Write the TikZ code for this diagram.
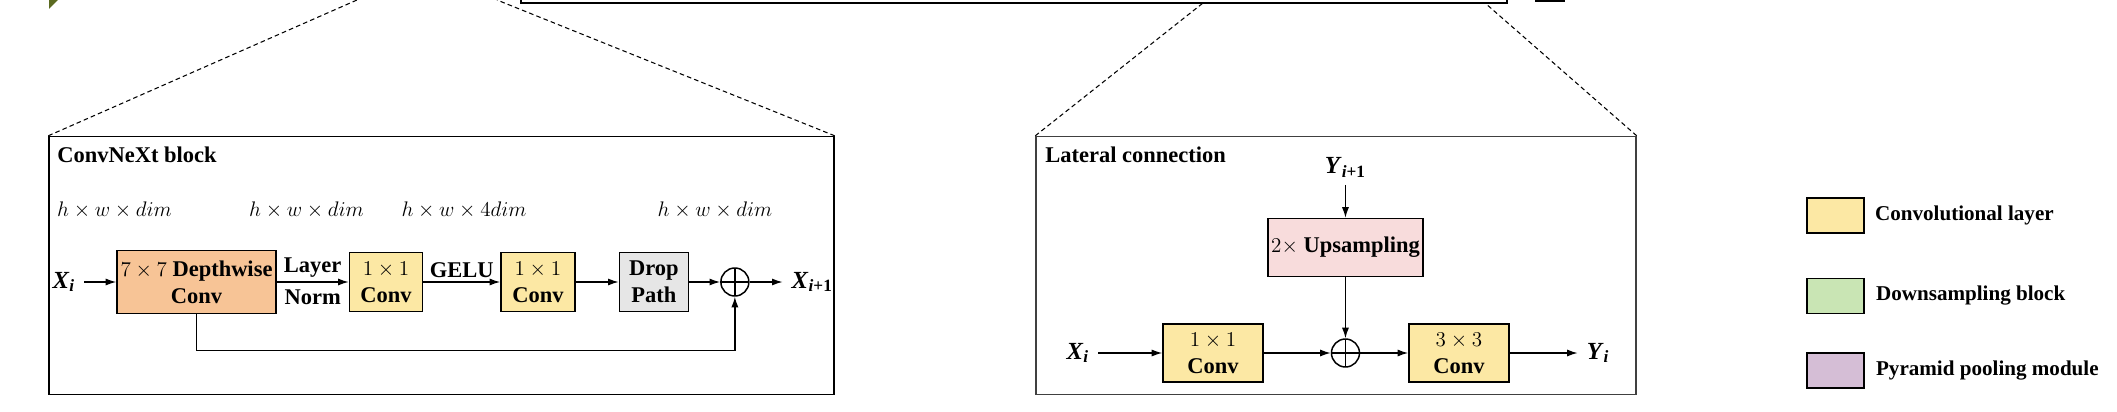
\documentclass[tikz,border=0pt]{standalone}
\usepackage{fontspec}
\setmainfont{Liberation Serif}
\usetikzlibrary{arrows.meta,positioning}
\definecolor{ink}{HTML}{000000}
\definecolor{dwfill}{HTML}{F7C496}
\definecolor{convfill}{HTML}{FCE8A4}
\definecolor{dropfill}{HTML}{E6E6E6}
\definecolor{upfill}{HTML}{F8DCDC}
\definecolor{downfill}{HTML}{C9E5B4}
\definecolor{ppmfill}{HTML}{D5BED6}
\definecolor{leafgreen}{HTML}{5B6A20}
\newcommand{\boxfont}{\fontsize{12.8pt}{15.5pt}\selectfont\bfseries}
\newcommand{\dimfont}{\fontsize{12pt}{14pt}\selectfont}
\newcommand{\featvar}[2]{\textit{#1}\textsubscript{#2}}
\tikzset{
  blk/.style={draw=ink,fill=#1,line width=0.85pt,inner sep=0pt,align=center,font=\boxfont},
  sumnode/.style={circle,draw=ink,line width=0.85pt,minimum size=0.56cm,inner sep=0pt,
    path picture={\draw[line width=0.85pt] (path picture bounding box.north) -- (path picture bounding box.south)
      (path picture bounding box.west) -- (path picture bounding box.east);}},
  flow/.style={-{Latex[length=6pt,width=4pt]},line width=0.75pt,draw=ink},
  zoomline/.style={draw=ink,line width=0.6pt,dash pattern=on 2.6pt off 1.8pt},
  panel/.style={draw=#1,line width=0.85pt,minimum height=5.16cm,inner sep=0pt},
  txt/.style={inner sep=0pt,font=\boxfont},
  sym/.style={inner xsep=5pt,inner ysep=0pt,font=\fontsize{14pt}{16pt}\selectfont\bfseries},
  dimtext/.style={inner sep=0pt,font=\dimfont},
  legendbox/.style={draw=ink,fill=#1,line width=0.85pt,minimum width=1.14cm,minimum height=0.7cm,inner sep=0pt},
  legendtext/.style={inner sep=0pt,font=\fontsize{12pt}{14pt}\selectfont\bfseries}
}
\begin{document}
\begin{tikzpicture}[x=0.02cm,y=-0.02cm]
  \useasboundingbox (0,0) rectangle (2117,412);
  \clip (0,0) rectangle (2117,412);

  % cut-off parts of the overview above
  \fill[leafgreen] (49,0) -- (49,9) -- (58,0) -- cycle;
  \draw[line width=0.85pt,fill=white] (521,-20) rectangle (1507,3);
  \fill[ink] (1535,0) rectangle (1565,2);
  \coordinate (cnxtopL) at (357,0);
  \coordinate (cnxtopR) at (497,0);
  \coordinate (lattopL) at (1203,3);
  \coordinate (lattopR) at (1485,3);

  % ConvNeXt block
  \node[panel=ink,minimum width=15.7cm] (cnxpanel) at (441.5,265.5) {};
  \draw[zoomline] (cnxpanel.north west) -- (cnxtopL);
  \draw[zoomline] (cnxpanel.north east) -- (cnxtopR);
  \node[txt,anchor=west] (cnxtitle) at (57,155) {ConvNeXt block};

  \node[dimtext] (dim1) at (114.5,210) {$h\times w\times dim$};
  \node[dimtext] (dim2) at (306.5,210) {$h\times w\times dim$};
  \node[dimtext] (dim3) at (464,210) {$h\times w\times 4dim$};
  \node[dimtext] (dim4) at (715,210) {$h\times w\times dim$};

  \node[blk=dwfill,minimum width=3.18cm,minimum height=1.26cm] (dw) at (196.5,282) {$7\times7$ Depthwise\\Conv};
  \node[blk=convfill,right=1.44cm of dw,minimum width=1.46cm,minimum height=1.18cm] (pw1) {$1\times1$\\Conv};
  \node[blk=convfill,right=1.54cm of pw1,minimum width=1.48cm,minimum height=1.18cm] (pw2) {$1\times1$\\Conv};
  \node[blk=dropfill,right=0.86cm of pw2,minimum width=1.38cm,minimum height=1.18cm] (drop) {Drop\\Path};
  \node[sumnode,right=0.62cm of drop] (add1) {};
  \node[sym,right=0.66cm of add1] (xout) {\featvar{X}{\textit{i}+1}};
  \node[sym,left=0.64cm of dw] (xin) {\featvar{X}{\textit{i}}};

  \draw[flow] (xin) -- (dw);
  \draw[flow] (dw) -- node[txt,above=2pt]{Layer} node[txt,below=4pt]{Norm} (pw1);
  \draw[flow] (pw1) -- node[txt,above=2pt]{GELU} (pw2);
  \draw[flow] (pw2) -- (drop);
  \draw[flow] (drop) -- (add1);
  \draw[flow] (add1) -- (xout);
  \draw[flow] (dw.south) -- ++(0,36) -| (add1.south);

  % Lateral connection
  \node[panel=ink!75,minimum width=12cm] (latpanel) at (1336,265.5) {};
  \draw[zoomline] (latpanel.north west) -- (lattopL);
  \draw[zoomline] (latpanel.north east) -- (lattopR);
  \node[txt,anchor=west] (lattitle) at (1045,155) {Lateral connection};

  \node[blk=convfill,minimum width=2cm,minimum height=1.16cm] (lat1) at (1213,353) {$1\times1$\\Conv};
  \node[sumnode,right=1.34cm of lat1] (add2) {};
  \node[blk=convfill,right=0.96cm of add2,minimum width=2cm,minimum height=1.16cm] (lat3) {$3\times3$\\Conv};
  \node[blk=upfill,above=1.22cm of add2,minimum width=3.1cm,minimum height=1.16cm] (up) {$2\times$ Upsampling};
  \node[sym,inner ysep=4pt,above=0.66cm of up] (yin) {\featvar{Y}{\textit{i}+1}};
  \node[sym,left=1.28cm of lat1] (xlat) {\featvar{X}{\textit{i}}};
  \node[sym,right=1.36cm of lat3] (ylat) {\featvar{Y}{\textit{i}}};

  \draw[flow] (xlat) -- (lat1);
  \draw[flow] (lat1) -- (add2);
  \draw[flow] (add2) -- (lat3);
  \draw[flow] (lat3) -- (ylat);
  \draw[flow] (yin) -- (up);
  \draw[flow] (up) -- (add2);

  % legend
  \node[legendbox=convfill] (lg1) at (1835.5,215.5) {};
  \node[legendbox=downfill,below=0.88cm of lg1] (lg2) {};
  \node[legendbox=ppmfill,below=0.76cm of lg2] (lg3) {};
  \node[legendtext,right=0.2cm of lg1] (lt1) {Convolutional layer};
  \node[legendtext,right=0.22cm of lg2] (lt2) {Downsampling block};
  \node[legendtext,right=0.22cm of lg3] (lt3) {Pyramid pooling module};
\end{tikzpicture}
\end{document}
